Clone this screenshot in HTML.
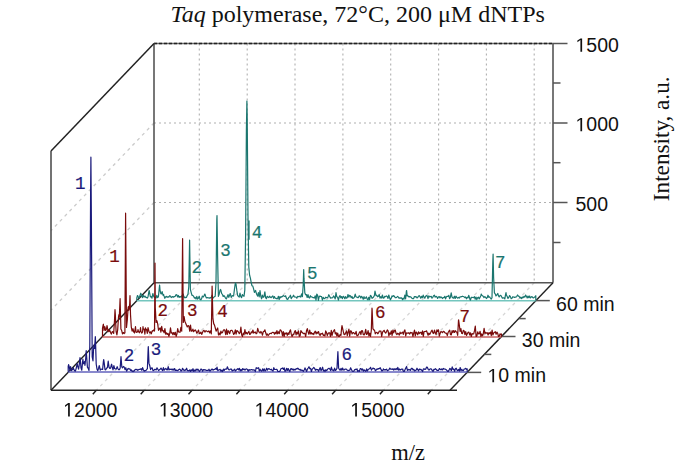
<!DOCTYPE html>
<html><head><meta charset="utf-8"><style>
html,body{margin:0;padding:0;background:#fff;width:675px;height:461px;overflow:hidden;}
svg{display:block;font-family:"Liberation Sans",sans-serif;}
</style></head><body>
<svg width="675" height="461" viewBox="0 0 675 461">
<rect width="675" height="461" fill="#fff"/>
<line x1="199.3" y1="43.5" x2="199.3" y2="282.7" stroke="#b0b0b0" stroke-width="1.1" stroke-dasharray="2,3"/>
<line x1="247.2" y1="43.5" x2="247.2" y2="282.7" stroke="#b0b0b0" stroke-width="1.1" stroke-dasharray="2,3"/>
<line x1="295.0" y1="43.5" x2="295.0" y2="282.7" stroke="#b0b0b0" stroke-width="1.1" stroke-dasharray="2,3"/>
<line x1="342.9" y1="43.5" x2="342.9" y2="282.7" stroke="#b0b0b0" stroke-width="1.1" stroke-dasharray="2,3"/>
<line x1="390.7" y1="43.5" x2="390.7" y2="282.7" stroke="#b0b0b0" stroke-width="1.1" stroke-dasharray="2,3"/>
<line x1="438.6" y1="43.5" x2="438.6" y2="282.7" stroke="#b0b0b0" stroke-width="1.1" stroke-dasharray="2,3"/>
<line x1="486.4" y1="43.5" x2="486.4" y2="282.7" stroke="#b0b0b0" stroke-width="1.1" stroke-dasharray="2,3"/>
<line x1="534.2" y1="43.5" x2="534.2" y2="282.7" stroke="#b0b0b0" stroke-width="1.1" stroke-dasharray="2,3"/>
<line x1="154.0" y1="123.0" x2="553.0" y2="123.0" stroke="#b0b0b0" stroke-width="1.1" stroke-dasharray="2,3"/>
<line x1="154.0" y1="202.5" x2="553.0" y2="202.5" stroke="#b0b0b0" stroke-width="1.1" stroke-dasharray="2,3"/>
<line x1="154.0" y1="123.0" x2="51.0" y2="230.6" stroke="#cacaca" stroke-width="1.3" stroke-dasharray="3.2,3.8"/>
<line x1="154.0" y1="202.5" x2="51.0" y2="310.1" stroke="#cacaca" stroke-width="1.3" stroke-dasharray="3.2,3.8"/>
<line x1="199.3" y1="282.7" x2="96.3" y2="390.3" stroke="#d6d6d6" stroke-width="1.3" stroke-dasharray="3.2,3.8"/>
<line x1="247.2" y1="282.7" x2="144.2" y2="390.3" stroke="#d6d6d6" stroke-width="1.3" stroke-dasharray="3.2,3.8"/>
<line x1="295.0" y1="282.7" x2="192.0" y2="390.3" stroke="#d6d6d6" stroke-width="1.3" stroke-dasharray="3.2,3.8"/>
<line x1="342.9" y1="282.7" x2="239.9" y2="390.3" stroke="#d6d6d6" stroke-width="1.3" stroke-dasharray="3.2,3.8"/>
<line x1="390.7" y1="282.7" x2="287.7" y2="390.3" stroke="#d6d6d6" stroke-width="1.3" stroke-dasharray="3.2,3.8"/>
<line x1="438.6" y1="282.7" x2="335.6" y2="390.3" stroke="#d6d6d6" stroke-width="1.3" stroke-dasharray="3.2,3.8"/>
<line x1="486.4" y1="282.7" x2="383.4" y2="390.3" stroke="#d6d6d6" stroke-width="1.3" stroke-dasharray="3.2,3.8"/>
<line x1="534.2" y1="282.7" x2="431.2" y2="390.3" stroke="#d6d6d6" stroke-width="1.3" stroke-dasharray="3.2,3.8"/>
<line x1="154.0" y1="43.5" x2="553.0" y2="43.5" stroke="#6a6a6a" stroke-width="1.3"/>
<line x1="154.0" y1="43.5" x2="553.0" y2="43.5" stroke="#222" stroke-width="1.3" stroke-dasharray="3,2"/>
<line x1="154.0" y1="43.5" x2="154.0" y2="282.7" stroke="#555555" stroke-width="1.6"/>
<line x1="154.0" y1="282.7" x2="553.0" y2="282.7" stroke="#555555" stroke-width="1.6"/>
<line x1="553.0" y1="43.5" x2="553.0" y2="282.7" stroke="#555555" stroke-width="1.6"/>
<line x1="154.0" y1="43.5" x2="51.0" y2="151.1" stroke="#222" stroke-width="1.5"/>
<line x1="51.0" y1="151.1" x2="51.0" y2="390.3" stroke="#505050" stroke-width="1.6"/>
<line x1="154.0" y1="282.7" x2="51.0" y2="390.3" stroke="#222" stroke-width="1.4"/>
<line x1="553.0" y1="282.7" x2="450.0" y2="390.3" stroke="#222" stroke-width="1.4"/>
<line x1="51.0" y1="390.3" x2="457.0" y2="390.3" stroke="#222" stroke-width="1.5"/>
<line x1="553.0" y1="43.5" x2="567.5" y2="43.5" stroke="#555555" stroke-width="1.5"/>
<line x1="553.0" y1="83.0" x2="560.5" y2="83.0" stroke="#555555" stroke-width="1.5"/>
<line x1="553.0" y1="123.0" x2="567.5" y2="123.0" stroke="#555555" stroke-width="1.5"/>
<line x1="553.0" y1="162.7" x2="560.5" y2="162.7" stroke="#555555" stroke-width="1.5"/>
<line x1="553.0" y1="202.5" x2="567.5" y2="202.5" stroke="#555555" stroke-width="1.5"/>
<line x1="553.0" y1="242.5" x2="560.5" y2="242.5" stroke="#555555" stroke-width="1.5"/>
<line x1="535.8" y1="300.6" x2="549.8" y2="300.6" stroke="#555555" stroke-width="1.5"/>
<line x1="518.7" y1="318.6" x2="525.7" y2="318.6" stroke="#555555" stroke-width="1.5"/>
<line x1="501.5" y1="336.5" x2="515.5" y2="336.5" stroke="#555555" stroke-width="1.5"/>
<line x1="484.3" y1="354.4" x2="491.3" y2="354.4" stroke="#555555" stroke-width="1.5"/>
<line x1="467.2" y1="372.4" x2="481.2" y2="372.4" stroke="#555555" stroke-width="1.5"/>
<line x1="96.3" y1="390.3" x2="92.8" y2="394.3" stroke="#222" stroke-width="1.4"/>
<line x1="144.2" y1="390.3" x2="140.7" y2="394.3" stroke="#222" stroke-width="1.4"/>
<line x1="192.0" y1="390.3" x2="188.5" y2="394.3" stroke="#222" stroke-width="1.4"/>
<line x1="239.9" y1="390.3" x2="236.4" y2="394.3" stroke="#222" stroke-width="1.4"/>
<line x1="287.7" y1="390.3" x2="284.2" y2="394.3" stroke="#222" stroke-width="1.4"/>
<line x1="335.6" y1="390.3" x2="332.1" y2="394.3" stroke="#222" stroke-width="1.4"/>
<line x1="383.4" y1="390.3" x2="379.9" y2="394.3" stroke="#222" stroke-width="1.4"/>
<line x1="431.2" y1="390.3" x2="427.8" y2="394.3" stroke="#222" stroke-width="1.4"/>
<line x1="136.8" y1="300.8" x2="535.8" y2="300.8" stroke="#74c6be" stroke-width="1.6"/>
<polyline points="136.8,300.5 136.8,297.8 137.5,295.5 137.6,295.6 138.4,297.3 139.2,298.0 139.2,298.0 140.0,295.5 140.8,293.2 141.6,295.6 142.4,297.6 143.2,295.3 144.0,297.1 144.8,296.0 145.0,296.0 145.6,297.2 146.4,297.4 147.2,298.1 148.0,297.0 148.8,292.2 149.2,290.5 149.6,292.8 150.4,296.8 151.2,296.6 152.0,298.1 152.8,293.5 152.9,293.5 153.6,296.1 154.4,297.3 155.2,297.0 156.0,298.1 156.8,295.4 157.6,297.6 158.4,296.9 159.2,288.7 159.6,285.0 160.0,289.8 160.8,293.6 161.6,293.9 162.1,291.5 162.4,292.8 163.2,295.5 163.6,294.5 164.0,295.9 164.8,298.3 165.6,296.9 166.4,296.3 167.2,297.3 168.0,296.8 168.8,297.1 169.6,295.7 170.4,296.0 171.2,297.5 172.0,296.9 172.8,296.6 173.6,297.2 174.4,296.5 175.2,296.3 176.0,294.7 176.8,294.8 177.6,297.0 178.4,295.5 178.4,295.5 179.2,297.4 180.0,296.5 180.8,297.0 181.6,295.8 182.4,297.7 183.2,294.0 184.0,297.6 184.8,297.1 185.6,297.7 186.4,297.5 187.2,295.6 187.8,294.5 188.0,294.3 188.8,286.5 189.6,240.0 189.6,240.1 190.4,289.5 191.2,292.6 192.0,295.3 192.8,295.4 193.6,296.3 194.4,298.1 195.2,297.5 196.0,299.0 196.8,296.4 197.6,299.2 198.4,298.2 199.2,296.2 200.0,299.4 200.8,299.8 201.6,298.6 202.4,296.0 203.2,297.0 204.0,295.8 204.8,294.0 204.9,294.0 205.6,296.2 206.4,297.9 207.2,297.5 208.0,297.9 208.8,297.8 209.6,298.2 210.4,297.6 211.2,297.8 212.0,295.3 212.8,298.4 213.6,297.4 214.4,296.7 215.2,296.2 216.0,282.6 216.8,219.5 217.0,215.5 217.6,256.4 218.4,296.4 219.2,294.2 220.0,290.3 220.5,289.5 220.8,289.9 221.6,293.4 222.4,294.5 222.5,294.5 223.2,296.5 224.0,295.7 224.8,296.7 225.6,298.3 226.4,298.9 227.2,296.8 228.0,294.6 228.8,297.4 229.6,295.1 230.2,293.5 230.4,293.8 231.2,297.4 232.0,296.0 232.8,295.6 233.6,296.0 234.4,289.6 235.2,283.8 235.6,283.0 236.0,284.1 236.8,290.2 237.6,295.3 238.4,296.4 239.2,297.1 240.0,293.1 240.8,296.7 241.6,297.6 242.4,294.5 243.2,295.8 244.0,296.3 244.8,290.2 245.6,235.2 246.4,129.3 246.9,101.0 247.2,115.5 248.0,218.1 248.8,267.1 249.6,275.2 250.4,278.1 251.2,282.5 252.0,285.8 252.8,286.1 253.6,288.9 254.4,292.4 255.2,291.1 255.6,290.5 256.0,292.1 256.8,294.5 257.6,296.1 258.4,292.7 259.2,296.8 260.0,290.5 260.0,290.5 260.8,296.2 261.6,298.8 262.4,295.2 263.2,297.3 264.0,296.7 264.8,292.1 264.9,292.0 265.6,297.6 266.4,298.7 267.2,296.3 268.0,297.0 268.8,297.6 269.6,296.2 270.4,297.2 271.2,297.7 272.0,296.7 272.8,295.9 273.6,298.3 274.4,296.5 275.2,298.2 276.0,298.3 276.8,298.8 277.6,298.6 278.4,296.3 279.2,299.4 280.0,296.5 280.8,297.6 281.6,296.7 282.4,296.6 283.2,295.5 284.0,296.0 284.8,296.4 285.6,295.8 286.4,298.2 287.2,299.4 288.0,299.1 288.8,297.3 289.6,297.0 290.4,295.2 291.2,298.6 292.0,297.3 292.8,296.6 293.6,295.2 294.4,296.9 295.2,297.0 296.0,297.1 296.8,298.2 297.6,296.4 298.4,296.6 299.2,296.7 300.0,296.1 300.8,297.0 301.6,293.9 302.4,296.7 303.2,285.0 303.7,269.5 304.0,278.4 304.8,292.7 305.6,294.8 306.4,294.5 307.2,297.5 308.0,294.7 308.8,297.5 309.6,298.0 310.4,295.7 311.2,297.0 312.0,296.9 312.8,297.6 313.6,297.6 314.4,298.0 315.2,295.8 316.0,300.2 316.8,294.2 317.6,295.1 318.4,300.3 319.2,296.6 320.0,296.1 320.8,296.5 321.6,296.7 322.4,300.1 323.2,297.3 324.0,298.5 324.8,298.7 325.6,297.2 326.4,297.5 327.2,297.9 328.0,297.1 328.8,294.7 329.6,296.2 330.4,298.1 331.2,297.8 332.0,298.0 332.8,297.5 333.6,295.9 334.4,297.1 335.2,299.0 336.0,292.7 336.8,296.8 337.6,297.3 338.4,300.1 339.2,296.8 340.0,295.6 340.8,297.9 341.6,296.6 342.4,298.6 343.2,296.3 344.0,297.0 344.8,298.7 345.6,296.6 346.4,298.2 347.2,297.8 348.0,294.5 348.8,297.2 349.6,295.4 350.4,295.7 351.2,297.8 352.0,296.5 352.8,298.5 353.6,298.0 354.4,297.2 355.2,294.1 356.0,296.8 356.8,297.1 357.6,297.6 358.4,297.6 359.2,295.8 360.0,296.3 360.8,298.1 361.6,296.3 362.4,297.3 363.2,299.3 364.0,296.6 364.8,298.6 365.6,298.0 366.4,296.8 367.2,299.1 368.0,299.9 368.8,297.3 369.6,299.7 370.4,295.4 371.2,295.9 372.0,298.4 372.8,297.7 373.6,297.1 374.4,295.5 375.0,291.0 375.2,292.0 376.0,295.7 376.8,295.4 377.6,296.8 378.4,296.3 379.2,294.6 380.0,298.2 380.8,296.7 381.6,298.0 382.4,295.0 383.2,298.1 384.0,297.9 384.8,296.4 385.6,296.7 386.4,295.9 387.2,296.5 388.0,298.4 388.8,295.0 389.6,297.8 390.4,299.8 391.2,298.4 392.0,295.9 392.8,296.7 393.6,295.6 394.4,296.3 395.2,297.6 396.0,297.7 396.8,297.2 397.6,296.4 398.4,297.1 399.2,298.3 400.0,297.8 400.8,298.3 401.6,297.8 402.4,299.6 403.2,298.3 404.0,299.1 404.8,295.1 405.6,299.0 406.4,291.1 406.6,290.5 407.2,296.0 408.0,295.8 408.8,296.8 409.6,296.6 410.4,296.8 411.2,297.3 412.0,298.3 412.8,298.7 413.6,298.6 414.4,296.5 415.2,296.9 416.0,296.5 416.8,297.8 417.6,297.6 418.4,296.3 419.2,295.6 420.0,296.7 420.8,298.3 421.6,296.3 422.4,297.7 423.2,295.1 424.0,297.1 424.8,298.2 425.6,296.3 426.4,295.6 427.2,295.9 428.0,298.6 428.8,295.8 429.6,296.8 430.4,296.7 431.2,296.3 432.0,298.2 432.8,297.3 433.6,295.8 434.4,295.2 435.2,297.2 436.0,296.4 436.8,296.8 437.6,298.4 438.4,297.0 439.2,296.6 440.0,297.9 440.8,296.8 441.6,297.4 442.4,298.5 443.2,297.6 444.0,297.6 444.8,296.3 445.6,298.9 446.4,296.8 447.2,296.3 448.0,296.5 448.8,295.3 449.6,298.6 450.4,297.1 451.2,292.8 452.0,297.0 452.8,297.9 453.6,298.2 454.4,296.2 455.2,298.5 456.0,296.2 456.8,297.3 457.6,298.2 458.4,297.4 459.2,298.2 460.0,296.9 460.8,296.8 461.6,296.7 462.4,296.2 463.2,296.5 464.0,296.8 464.8,297.6 465.6,297.0 466.4,298.8 467.2,297.3 468.0,297.9 468.8,295.3 469.6,298.2 470.4,300.2 471.2,297.4 472.0,297.3 472.8,297.5 473.6,297.6 474.4,296.7 475.2,299.2 476.0,297.0 476.8,299.6 477.6,297.8 478.4,297.2 479.2,298.9 480.0,297.4 480.8,295.7 481.3,294.0 481.6,294.9 482.4,295.8 483.2,296.3 484.0,297.6 484.8,296.6 485.6,297.3 486.4,298.5 487.2,297.7 488.0,295.2 488.8,297.3 489.6,296.8 490.4,298.0 491.2,299.1 492.0,297.7 492.8,261.7 493.1,254.0 493.6,277.3 494.4,292.8 495.2,293.9 496.0,296.0 496.8,294.9 497.6,293.9 497.8,293.5 498.4,295.6 499.2,296.9 500.0,295.5 500.8,295.4 501.6,296.7 502.4,298.1 503.2,297.9 504.0,297.8 504.8,298.9 505.6,294.4 506.0,292.5 506.4,295.0 507.2,296.6 508.0,298.4 508.8,297.4 509.6,295.5 510.4,296.6 511.2,298.7 512.0,298.3 512.8,296.7 513.6,297.0 514.4,297.5 515.2,297.0 516.0,297.1 516.8,296.3 517.6,295.0 518.4,296.2 519.2,296.4 520.0,298.1 520.8,297.2 521.6,298.6 522.4,297.1 523.2,297.7 524.0,296.4 524.8,297.2 525.6,295.0 526.4,296.3 527.2,298.0 528.0,296.1 528.8,297.7 529.6,296.0 530.4,297.9 531.2,297.1 532.0,296.6 532.8,297.6 533.6,297.9 534.4,297.1 535.2,296.7 535.8,295.7 535.8,300.5" fill="none" stroke="#1b766f" stroke-width="1.2" stroke-linejoin="round" />
<line x1="102.5" y1="337.0" x2="501.5" y2="337.0" stroke="#c86262" stroke-width="1.6"/>
<polyline points="102.5,336.7 102.5,328.1 103.3,324.4 103.4,324.2 104.1,330.4 104.8,326.7 104.9,326.9 105.7,330.5 106.5,328.9 107.0,325.7 107.3,327.0 108.1,331.7 108.9,329.7 109.7,331.4 110.0,330.7 110.5,332.5 111.3,334.1 112.1,332.0 112.3,331.7 112.9,331.8 113.7,333.5 114.5,320.3 115.0,309.7 115.3,314.1 116.1,331.6 116.9,334.9 117.7,329.6 118.5,317.3 118.9,314.7 119.3,317.3 120.1,298.7 120.9,328.9 121.7,330.6 122.5,333.8 123.3,332.6 123.7,332.7 124.1,333.6 124.9,332.9 125.6,213.2 125.7,225.3 126.5,327.4 127.3,320.3 128.1,308.0 128.4,306.7 128.9,310.2 129.7,303.9 130.0,295.7 130.5,314.6 131.3,327.2 132.1,331.2 132.9,328.9 133.0,328.7 133.7,331.8 134.5,333.0 135.3,327.9 135.5,326.7 136.1,332.2 136.9,332.4 137.7,331.4 138.0,329.7 138.5,331.4 139.3,332.8 140.1,331.2 140.5,327.7 140.9,331.2 141.7,333.1 142.5,332.1 143.0,326.7 143.3,329.2 144.1,329.0 144.9,334.1 145.5,327.9 145.7,329.6 146.5,329.4 147.3,333.4 148.0,327.7 148.1,328.0 148.9,331.2 149.7,333.0 150.5,331.8 151.3,333.8 152.1,331.2 152.5,330.7 152.9,331.1 153.7,330.0 154.5,331.0 155.0,263.1 155.3,307.7 156.1,322.4 156.9,320.7 157.7,323.9 158.5,330.3 159.3,328.9 160.1,327.8 160.9,332.2 161.7,326.4 162.5,330.8 163.3,330.7 164.1,332.9 164.9,328.5 165.7,334.1 166.5,332.8 167.3,334.5 168.1,333.4 168.9,336.3 169.7,333.6 170.5,327.9 171.3,333.1 172.1,332.6 172.9,334.7 173.7,332.5 174.5,334.6 175.3,332.2 176.1,336.5 176.9,334.1 177.7,328.6 178.5,331.9 179.3,332.1 180.1,332.1 180.9,327.3 181.7,331.2 182.5,248.3 182.6,238.7 183.3,322.5 184.1,316.5 184.9,321.6 185.7,323.3 186.5,325.2 187.3,326.9 188.1,325.6 188.9,326.0 189.7,331.2 190.5,325.0 191.3,331.2 192.1,331.1 192.9,329.1 193.7,331.7 194.5,330.5 195.3,329.9 196.1,331.2 196.9,333.3 197.7,331.8 198.5,330.0 199.3,333.6 200.1,333.4 200.9,332.1 201.7,334.4 202.5,332.5 203.3,330.8 204.1,330.4 204.9,332.1 205.7,330.9 206.5,330.9 207.3,331.7 208.1,331.6 208.9,331.0 209.7,332.9 210.5,330.9 211.3,333.9 212.1,286.2 212.9,318.3 213.7,323.6 214.5,325.1 215.3,328.0 216.1,331.2 216.9,329.6 217.7,328.0 218.5,334.9 219.3,333.0 220.1,335.0 220.9,331.2 221.7,333.1 222.5,332.5 223.3,330.4 224.1,329.6 224.9,330.6 225.7,334.6 226.5,329.0 227.3,334.3 228.1,330.7 228.9,331.9 229.7,333.7 230.5,330.5 231.3,330.4 232.1,330.4 232.9,332.1 233.7,334.5 234.5,333.3 235.3,329.9 236.1,334.1 236.9,330.5 237.7,331.2 238.5,332.1 239.3,333.7 240.1,332.6 240.9,327.0 241.7,335.0 242.5,336.5 243.3,333.1 244.1,334.5 244.9,329.6 245.7,333.6 246.5,332.4 247.3,334.0 248.1,332.5 248.9,331.4 249.7,334.5 250.5,333.9 251.3,331.9 252.1,332.8 252.9,330.0 253.7,333.2 254.5,332.4 255.3,332.0 256.1,333.8 256.9,333.2 257.7,328.3 258.5,331.0 259.3,332.4 260.1,333.1 260.9,331.5 261.7,332.6 262.5,335.2 263.3,331.6 264.1,331.4 264.9,329.9 265.7,332.8 266.5,335.2 267.3,333.9 268.1,335.5 268.9,334.7 269.7,333.5 270.5,333.3 271.3,333.7 272.1,332.5 272.9,332.3 273.7,332.6 274.5,334.2 275.3,332.2 276.1,333.8 276.9,330.6 277.7,333.8 278.5,331.8 279.3,333.6 280.1,329.9 280.9,330.3 281.7,331.7 282.5,335.8 283.3,331.5 284.1,336.5 284.9,332.8 285.7,333.8 286.5,332.8 287.3,335.4 288.1,332.9 288.9,334.4 289.7,331.4 290.5,329.9 291.3,334.4 292.1,336.5 292.9,334.4 293.7,334.7 294.5,331.9 295.3,330.6 296.1,334.8 296.9,332.1 297.7,333.9 298.5,330.9 299.3,336.3 300.1,336.0 300.9,330.6 301.7,332.0 302.5,332.7 303.3,333.7 304.1,333.2 304.9,333.6 305.7,336.5 306.5,330.8 307.3,328.6 308.1,332.0 308.9,334.3 309.7,330.1 310.5,333.8 311.3,332.6 312.1,334.2 312.9,333.3 313.7,334.5 314.5,332.3 315.3,331.2 316.1,333.9 316.9,332.0 317.7,333.3 318.5,331.5 319.3,334.3 320.1,335.5 320.9,333.6 321.7,334.0 322.5,333.2 323.3,335.4 324.1,335.0 324.9,335.9 325.7,330.9 326.5,332.6 327.3,335.6 328.1,333.5 328.9,332.8 329.7,332.9 330.5,336.5 331.3,330.4 332.1,335.4 332.9,332.2 333.7,330.8 334.5,329.7 335.3,333.8 336.1,332.6 336.9,336.0 337.7,333.1 338.5,336.4 339.3,336.5 340.1,334.5 340.9,335.4 341.7,327.5 342.0,325.7 342.5,327.8 343.3,331.5 344.1,334.6 344.9,334.4 345.7,332.7 346.5,330.9 347.3,335.6 348.1,332.2 348.9,329.2 349.7,336.2 350.5,330.9 351.3,331.1 352.1,334.0 352.9,332.7 353.7,332.7 354.5,333.9 355.3,334.0 356.1,331.3 356.9,335.7 357.7,335.6 358.5,334.6 359.3,332.6 360.1,331.5 360.9,334.6 361.7,330.5 362.5,330.9 363.3,334.5 364.1,334.9 364.9,333.4 365.7,329.3 366.5,334.4 367.3,333.9 368.1,330.6 368.9,335.8 369.7,333.1 370.5,336.5 371.3,330.5 372.0,308.2 372.1,309.1 372.9,328.6 373.7,329.9 374.5,330.0 375.3,333.8 376.1,332.5 376.9,332.4 377.7,333.8 378.5,332.9 379.3,331.1 380.1,331.0 380.9,331.2 381.7,336.4 382.5,332.3 383.3,331.2 384.1,330.3 384.9,332.2 385.7,333.1 386.5,331.8 387.3,329.9 388.1,330.8 388.9,335.9 389.7,332.9 390.5,334.2 391.3,330.8 392.1,335.3 392.9,330.2 393.7,332.9 394.5,330.5 395.3,330.1 396.1,333.6 396.9,334.6 397.7,333.2 398.5,333.7 399.3,335.1 400.1,332.2 400.9,333.7 401.7,332.9 402.5,332.1 403.3,334.4 404.1,331.2 404.9,329.9 405.7,335.9 406.5,332.8 407.3,333.2 408.1,333.1 408.9,332.7 409.7,334.1 410.5,332.4 411.3,332.9 412.1,332.5 412.9,336.5 413.7,333.2 414.5,330.1 415.3,336.0 416.1,332.0 416.9,332.9 417.7,334.8 418.5,331.8 419.3,333.6 420.1,332.6 420.9,332.3 421.7,334.4 422.5,330.8 423.3,336.5 424.1,331.6 424.9,331.5 425.7,331.4 426.5,330.8 427.3,333.0 428.1,335.3 428.9,333.0 429.7,334.5 430.5,332.9 431.3,331.2 432.1,330.2 432.9,333.0 433.7,333.5 434.5,330.2 435.3,332.8 436.1,334.5 436.9,329.8 437.7,331.6 438.5,329.8 439.3,336.2 440.1,333.5 440.9,331.6 441.7,331.8 442.5,332.7 443.3,331.3 444.1,331.6 444.9,332.8 445.7,333.1 446.5,333.4 447.3,335.6 448.1,332.5 448.9,331.2 449.7,330.2 450.5,334.7 451.3,334.8 452.1,330.7 452.9,332.6 453.7,330.5 454.5,332.5 455.3,330.7 456.1,331.7 456.9,332.2 457.7,335.3 458.5,320.4 458.6,319.9 459.3,324.9 460.1,331.4 460.9,328.6 461.7,333.4 462.5,333.6 463.3,330.4 464.1,330.7 464.9,334.7 465.7,331.7 466.5,335.4 467.3,333.7 468.1,332.4 468.9,332.2 469.7,335.0 470.5,332.9 471.3,336.5 472.1,333.6 472.9,334.1 473.7,333.8 474.5,330.7 475.3,326.0 476.1,336.5 476.9,335.9 477.7,331.8 478.5,333.8 479.3,333.9 480.1,331.3 480.9,336.5 481.7,333.8 482.5,335.8 483.3,333.7 484.1,328.4 484.9,333.7 485.7,332.3 486.5,333.2 487.3,332.7 488.1,335.0 488.9,332.7 489.7,333.7 490.5,332.0 491.3,335.7 492.1,330.2 492.9,335.0 493.7,332.9 494.5,332.5 495.3,331.6 496.1,334.2 496.9,332.1 497.7,333.4 498.5,336.5 499.3,336.1 500.1,333.8 500.9,334.9 501.5,334.0 501.5,336.7" fill="none" stroke="#7a0c0c" stroke-width="1.2" stroke-linejoin="round" />
<line x1="68.2" y1="372.0" x2="467.2" y2="372.0" stroke="#6262bc" stroke-width="1.5"/>
<polyline points="68.2,371.7 68.2,366.3 68.6,364.7 69.0,365.9 69.8,370.0 70.5,366.7 70.6,366.7 71.4,370.6 72.2,369.9 73.0,368.9 73.3,367.7 73.8,369.4 74.6,370.7 75.4,371.1 76.2,368.3 77.0,364.3 77.2,363.7 77.8,366.6 78.6,369.1 79.4,363.6 80.0,357.7 80.2,358.3 81.0,367.9 81.8,370.2 82.6,361.6 82.9,359.2 83.4,363.7 84.2,363.7 84.5,361.7 85.0,365.3 85.8,357.2 86.2,350.7 86.6,355.7 87.4,367.1 88.2,368.4 89.0,370.5 89.8,345.7 90.6,192.5 90.9,157.2 91.4,222.8 92.2,356.8 93.0,360.8 93.6,347.7 93.8,349.0 94.3,344.7 94.6,348.4 95.3,336.7 95.4,337.0 96.2,364.0 97.0,369.1 97.8,370.6 98.6,368.2 99.2,365.7 99.4,365.9 100.2,370.1 101.0,369.0 101.8,369.3 102.6,369.5 103.4,361.4 103.7,359.7 104.2,362.9 105.0,369.7 105.8,369.8 106.6,368.1 107.4,367.7 108.2,361.2 108.2,361.2 109.0,367.1 109.8,368.4 110.6,368.1 111.4,364.7 111.6,364.2 112.2,366.9 113.0,369.9 113.8,365.8 113.9,365.7 114.6,368.5 115.4,368.9 116.2,369.1 117.0,367.1 117.2,366.7 117.8,368.5 118.6,369.6 119.4,369.7 120.2,367.9 121.0,356.7 121.0,356.7 121.8,366.8 122.6,367.8 123.4,366.5 124.2,367.1 125.0,369.6 125.8,367.7 126.6,371.2 127.4,369.7 128.2,368.4 129.0,369.0 129.8,368.9 130.6,370.4 131.4,369.9 132.2,371.5 133.0,370.9 133.8,371.5 134.6,370.1 135.4,369.4 136.2,369.6 137.0,369.4 137.8,370.3 138.6,369.6 139.4,369.3 140.2,369.4 141.0,368.6 141.8,370.3 142.6,367.6 143.4,369.8 144.2,371.2 145.0,370.6 145.8,370.6 146.6,369.7 147.4,368.7 148.2,347.7 148.3,346.7 149.0,363.4 149.8,365.8 150.6,369.6 151.4,368.0 152.2,367.8 153.0,370.7 153.8,370.5 154.6,369.3 155.4,369.4 156.2,369.9 157.0,367.8 157.8,369.2 158.6,370.5 159.4,369.8 160.2,369.2 161.0,368.1 161.8,369.4 162.6,370.6 163.4,367.7 164.2,370.2 165.0,369.1 165.8,368.4 166.6,369.6 167.4,369.9 168.2,366.7 169.0,370.0 169.8,369.2 170.6,369.3 171.4,369.2 172.2,370.0 173.0,368.9 173.8,370.2 174.6,368.5 175.4,370.5 176.2,370.1 177.0,370.3 177.8,370.6 178.6,369.8 179.4,369.1 180.2,369.5 181.0,371.0 181.8,370.5 182.6,368.3 183.4,369.7 184.2,370.6 185.0,369.9 185.8,370.1 186.6,368.2 187.4,370.6 188.2,370.7 189.0,370.8 189.8,369.8 190.6,371.5 191.4,369.8 192.2,370.7 193.0,368.7 193.8,371.5 194.6,370.1 195.4,370.8 196.2,369.0 197.0,370.3 197.8,369.1 198.6,370.1 199.4,371.5 200.2,370.3 201.0,369.0 201.8,369.5 202.6,371.2 203.4,369.6 204.2,369.8 205.0,369.7 205.8,370.1 206.6,370.3 207.4,370.3 208.2,370.5 209.0,369.2 209.8,370.9 210.6,370.6 211.4,369.3 212.2,369.2 213.0,370.2 213.8,369.6 214.6,369.5 215.4,368.5 216.2,369.5 217.0,367.1 217.8,370.6 218.6,370.1 219.4,369.7 220.2,369.4 221.0,371.3 221.8,370.2 222.6,371.5 223.4,369.1 224.2,370.4 225.0,369.1 225.8,369.1 226.6,369.1 227.4,366.8 228.2,369.0 229.0,369.9 229.8,369.6 230.6,369.1 231.4,369.1 232.2,371.0 233.0,370.3 233.8,370.1 234.6,369.1 235.4,371.0 236.2,370.2 237.0,369.3 237.8,368.7 238.6,369.8 239.4,368.3 240.2,371.0 241.0,369.5 241.8,370.8 242.6,368.6 243.4,369.6 244.2,369.1 245.0,370.2 245.8,369.0 246.6,368.9 247.4,369.5 248.2,371.3 249.0,369.6 249.8,370.2 250.6,369.9 251.4,369.7 252.2,369.7 253.0,370.1 253.8,369.8 254.6,370.3 255.4,371.5 256.2,367.7 257.0,368.4 257.8,368.2 258.6,367.7 259.4,371.0 260.2,369.5 261.0,370.8 261.8,371.1 262.6,368.9 263.4,370.9 264.2,368.8 265.0,371.0 265.8,370.4 266.6,368.2 267.4,370.1 268.2,368.8 269.0,368.6 269.8,369.3 270.6,369.7 271.4,369.2 272.2,370.5 273.0,371.1 273.8,367.7 274.6,369.4 275.4,369.5 276.2,369.4 277.0,369.4 277.8,371.3 278.6,371.5 279.4,371.4 280.2,370.8 281.0,368.6 281.8,368.5 282.6,368.0 283.4,369.4 284.2,367.8 285.0,371.3 285.8,370.8 286.6,368.3 287.4,370.4 288.2,368.5 289.0,370.5 289.8,371.5 290.6,368.8 291.4,368.7 292.2,369.9 293.0,368.9 293.8,370.3 294.6,369.3 295.4,369.8 296.2,368.6 297.0,369.0 297.8,368.1 298.6,369.0 299.4,369.8 300.2,369.3 301.0,370.6 301.8,369.9 302.6,370.5 303.4,371.3 304.2,370.0 305.0,367.9 305.8,369.7 306.6,371.5 307.4,369.0 308.2,368.0 309.0,366.7 309.8,368.7 310.6,368.3 311.4,371.5 312.2,369.1 313.0,368.3 313.8,367.5 314.6,368.3 315.4,370.3 316.2,369.4 317.0,369.8 317.8,369.5 318.6,371.3 319.4,369.3 320.2,367.5 321.0,370.7 321.8,369.5 322.6,367.2 323.4,371.0 324.2,370.2 325.0,371.5 325.8,369.7 326.6,370.5 327.4,369.8 328.2,368.5 329.0,368.3 329.8,369.0 330.6,370.5 331.4,367.2 332.2,370.2 333.0,370.0 333.8,370.9 334.6,368.2 335.4,370.5 336.2,369.8 337.0,368.2 337.8,353.0 337.9,351.7 338.6,367.9 339.4,369.5 340.2,370.2 341.0,368.4 341.8,370.2 342.6,368.0 343.4,369.9 344.2,370.0 345.0,369.2 345.8,369.0 346.6,369.3 347.4,370.3 348.2,370.6 349.0,370.3 349.8,370.2 350.6,367.8 351.4,369.4 352.2,371.0 353.0,371.4 353.8,371.2 354.6,369.8 355.4,369.3 356.2,369.7 357.0,368.8 357.8,371.5 358.6,370.6 359.4,371.3 360.2,368.6 361.0,368.6 361.8,370.2 362.6,368.9 363.4,371.1 364.2,369.8 365.0,370.6 365.8,371.3 366.6,368.9 367.4,371.0 368.2,369.4 369.0,369.0 369.8,368.5 370.6,367.3 371.4,370.1 372.2,369.0 373.0,368.0 373.8,368.7 374.6,368.6 375.4,370.7 376.2,370.0 377.0,368.9 377.8,369.3 378.6,368.5 379.4,368.6 380.2,367.7 381.0,369.4 381.8,370.9 382.6,370.7 383.4,368.9 384.2,370.0 385.0,369.6 385.8,369.8 386.6,369.1 387.4,370.7 388.2,370.3 389.0,369.8 389.8,368.0 390.6,369.1 391.4,369.0 392.2,369.5 393.0,368.7 393.8,370.1 394.6,368.8 395.4,369.5 396.2,368.5 397.0,369.8 397.8,367.4 398.6,370.2 399.4,369.0 400.2,370.1 401.0,369.4 401.8,369.2 402.6,369.2 403.4,371.4 404.2,371.4 405.0,369.7 405.8,368.0 406.6,366.6 407.4,370.5 408.2,369.4 409.0,370.1 409.8,369.6 410.6,370.3 411.4,368.3 412.2,368.3 413.0,369.9 413.8,369.3 414.6,371.0 415.4,370.5 416.2,369.9 417.0,368.2 417.8,369.7 418.6,370.8 419.4,369.0 420.2,369.6 421.0,369.4 421.8,370.3 422.6,371.5 423.4,368.9 424.2,368.9 425.0,369.5 425.8,368.9 426.6,367.0 427.4,367.4 428.2,369.3 429.0,370.2 429.8,369.2 430.6,368.8 431.4,369.1 432.2,370.4 433.0,371.5 433.8,369.4 434.6,369.6 435.4,368.7 436.2,369.4 437.0,370.4 437.8,370.4 438.6,370.3 439.4,368.6 440.2,369.2 441.0,369.9 441.8,368.8 442.6,369.9 443.4,368.5 444.2,369.0 445.0,369.1 445.8,369.6 446.6,370.1 447.4,371.1 448.2,371.5 449.0,370.1 449.8,368.5 450.6,369.1 451.4,370.5 452.2,366.9 453.0,369.4 453.8,369.1 454.6,371.3 455.4,368.7 456.2,368.2 457.0,370.0 457.8,370.7 458.6,369.5 459.4,371.0 460.2,367.5 461.0,370.7 461.8,369.3 462.6,370.5 463.4,370.6 464.2,369.0 465.0,369.0 465.8,368.3 466.6,369.4 467.2,368.9 467.2,371.7" fill="none" stroke="#1a1a7c" stroke-width="1.2" stroke-linejoin="round" />
<line x1="248.9" y1="220.6" x2="248.9" y2="239.8" stroke="#1b766f" stroke-width="1.5"/>
<text x="196.7" y="273.2" font-family="&quot;Liberation Mono&quot;, monospace" font-size="17.5" fill="#1b766f" text-anchor="middle" stroke="#1b766f" stroke-width="0.22">2</text>
<text x="225.5" y="255.8" font-family="&quot;Liberation Mono&quot;, monospace" font-size="17.5" fill="#1b766f" text-anchor="middle" stroke="#1b766f" stroke-width="0.22">3</text>
<text x="257.0" y="238.2" font-family="&quot;Liberation Mono&quot;, monospace" font-size="17.5" fill="#1b766f" text-anchor="middle" stroke="#1b766f" stroke-width="0.22">4</text>
<text x="312.3" y="279.1" font-family="&quot;Liberation Mono&quot;, monospace" font-size="17.5" fill="#1b766f" text-anchor="middle" stroke="#1b766f" stroke-width="0.22">5</text>
<text x="500.2" y="267.7" font-family="&quot;Liberation Mono&quot;, monospace" font-size="17.5" fill="#1b766f" text-anchor="middle" stroke="#1b766f" stroke-width="0.22">7</text>
<text x="114.5" y="261.9" font-family="&quot;Liberation Mono&quot;, monospace" font-size="17.5" fill="#7a0c0c" text-anchor="middle" stroke="#7a0c0c" stroke-width="0.22">1</text>
<text x="162.8" y="315.9" font-family="&quot;Liberation Mono&quot;, monospace" font-size="17.5" fill="#7a0c0c" text-anchor="middle" stroke="#7a0c0c" stroke-width="0.22">2</text>
<text x="192.2" y="316.2" font-family="&quot;Liberation Mono&quot;, monospace" font-size="17.5" fill="#7a0c0c" text-anchor="middle" stroke="#7a0c0c" stroke-width="0.22">3</text>
<text x="222.4" y="316.9" font-family="&quot;Liberation Mono&quot;, monospace" font-size="17.5" fill="#7a0c0c" text-anchor="middle" stroke="#7a0c0c" stroke-width="0.22">4</text>
<text x="380.3" y="318.1" font-family="&quot;Liberation Mono&quot;, monospace" font-size="17.5" fill="#7a0c0c" text-anchor="middle" stroke="#7a0c0c" stroke-width="0.22">6</text>
<text x="464.7" y="322.2" font-family="&quot;Liberation Mono&quot;, monospace" font-size="17.5" fill="#7a0c0c" text-anchor="middle" stroke="#7a0c0c" stroke-width="0.22">7</text>
<text x="80.2" y="188.8" font-family="&quot;Liberation Mono&quot;, monospace" font-size="17.5" fill="#1a1a7c" text-anchor="middle" stroke="#1a1a7c" stroke-width="0.22">1</text>
<text x="129.0" y="361.1" font-family="&quot;Liberation Mono&quot;, monospace" font-size="17.5" fill="#1a1a7c" text-anchor="middle" stroke="#1a1a7c" stroke-width="0.22">2</text>
<text x="156.1" y="355.1" font-family="&quot;Liberation Mono&quot;, monospace" font-size="17.5" fill="#1a1a7c" text-anchor="middle" stroke="#1a1a7c" stroke-width="0.22">3</text>
<text x="346.7" y="360.4" font-family="&quot;Liberation Mono&quot;, monospace" font-size="17.5" fill="#1a1a7c" text-anchor="middle" stroke="#1a1a7c" stroke-width="0.22">6</text>
<path d="M515,0L696,0L696,1409L530,1409L197,1180L197,1010L515,1237Z" fill="#111" transform="translate(575.50,51.80) scale(0.00952,-0.00952)"/>
<text x="575.5" y="51.8" font-family="&quot;Liberation Sans&quot;, monospace" font-size="19.5" fill="#111" text-anchor="start" > 500</text>
<path d="M515,0L696,0L696,1409L530,1409L197,1180L197,1010L515,1237Z" fill="#111" transform="translate(575.50,131.30) scale(0.00952,-0.00952)"/>
<text x="575.5" y="131.3" font-family="&quot;Liberation Sans&quot;, monospace" font-size="19.5" fill="#111" text-anchor="start" > 000</text>
<text x="575.5" y="210.8" font-family="&quot;Liberation Sans&quot;, monospace" font-size="19.5" fill="#111" text-anchor="start" >500</text>
<path d="M515,0L696,0L696,1409L530,1409L197,1180L197,1010L515,1237Z" fill="#111" transform="translate(63.19,416.50) scale(0.00952,-0.00952)"/>
<text x="63.2" y="416.5" font-family="&quot;Liberation Sans&quot;, monospace" font-size="19.5" fill="#111" text-anchor="start" > 2000</text>
<path d="M515,0L696,0L696,1409L530,1409L197,1180L197,1010L515,1237Z" fill="#111" transform="translate(158.89,416.50) scale(0.00952,-0.00952)"/>
<text x="158.9" y="416.5" font-family="&quot;Liberation Sans&quot;, monospace" font-size="19.5" fill="#111" text-anchor="start" > 3000</text>
<path d="M515,0L696,0L696,1409L530,1409L197,1180L197,1010L515,1237Z" fill="#111" transform="translate(254.59,416.50) scale(0.00952,-0.00952)"/>
<text x="254.6" y="416.5" font-family="&quot;Liberation Sans&quot;, monospace" font-size="19.5" fill="#111" text-anchor="start" > 4000</text>
<path d="M515,0L696,0L696,1409L530,1409L197,1180L197,1010L515,1237Z" fill="#111" transform="translate(350.29,416.50) scale(0.00952,-0.00952)"/>
<text x="350.3" y="416.5" font-family="&quot;Liberation Sans&quot;, monospace" font-size="19.5" fill="#111" text-anchor="start" > 5000</text>
<text x="556.1" y="310.6" font-family="&quot;Liberation Sans&quot;, monospace" font-size="19.5" fill="#111" text-anchor="start" >60 min</text>
<text x="521.8" y="346.5" font-family="&quot;Liberation Sans&quot;, monospace" font-size="19.5" fill="#111" text-anchor="start" >30 min</text>
<path d="M515,0L696,0L696,1409L530,1409L197,1180L197,1010L515,1237Z" fill="#111" transform="translate(487.47,382.37) scale(0.00952,-0.00952)"/>
<text x="487.5" y="382.4" font-family="&quot;Liberation Sans&quot;, monospace" font-size="19.5" fill="#111" text-anchor="start" > 0 min</text>
<text x="357.7" y="21.7" font-family="&quot;Liberation Serif&quot;, serif" font-size="24" fill="#111" text-anchor="middle"><tspan font-style="italic">Taq</tspan> polymerase, 72°C, 200 μM dNTPs</text>
<text x="408.2" y="460.3" font-family="&quot;Liberation Serif&quot;, serif" font-size="22.5" fill="#111" text-anchor="middle">m/z</text>
<text transform="translate(669.2,138.8) rotate(-90)" x="0" y="0" font-family="&quot;Liberation Serif&quot;, serif" font-size="23.2" fill="#111" text-anchor="middle">Intensity, a.u.</text>
</svg></body></html>
